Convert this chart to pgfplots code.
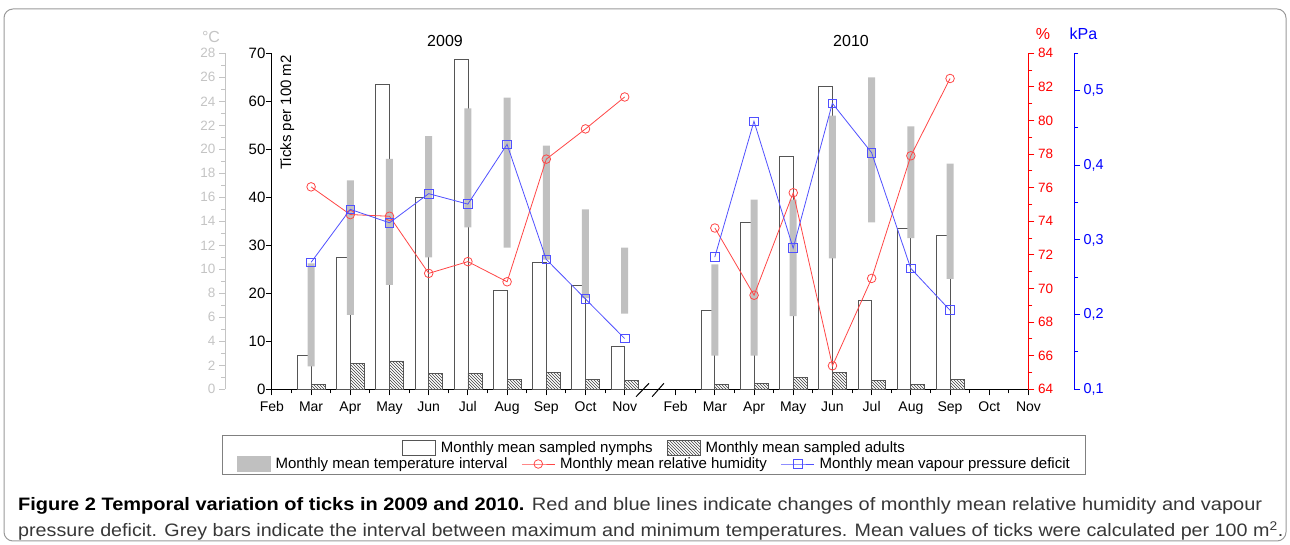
\documentclass[border=0pt]{standalone}
\usepackage{graphicx}
\usepackage{pgfplots}
\usepackage{pgfplotstable}
\pgfplotsset{compat=1.18}
\usepackage{fontspec}
\setmainfont{Liberation Sans}
\usetikzlibrary{patterns}

\definecolor{rhline}{RGB}{255,70,70}
\definecolor{vpdline}{RGB}{80,80,255}
\definecolor{tempgray}{RGB}{192,192,192}
\definecolor{axgray}{RGB}{196,196,196}
\definecolor{barline}{RGB}{85,85,85}
\definecolor{captxt}{RGB}{55,55,55}

% x: month index (Feb 2009 = 0 ... Nov 2009 = 9; Feb 2010 = 10.3 ... Nov 2010 = 19.3)
\pgfplotstableread{
x    n     a     tmin  tmax  rh     vpd
1    7.1   1.0   1.9   10.5  76.05  0.270
2    27.4  5.3   6.2   17.4  74.4   0.341
3    63.5  5.9   8.7   19.2  74.3   0.323
4    40.0  3.25  11.0  21.1  70.9   0.362
5    68.8  3.25  13.5  23.4  71.6   0.348
6    20.5  2.1   11.8  24.3  70.4   0.428
7    26.4  3.6   10.8  20.3  77.7   0.274
8    21.6  2.1   7.6   15.0  79.5   0.221
9    8.9   1.9   6.3   11.8  81.4   0.168
}\nine
\pgfplotstableread{
x    n     a     tmin  tmax  rh     vpd
11.3 16.4  1.1   2.8   10.4  73.6   0.277
12.3 34.8  1.25  2.8   15.8  69.6   0.459
13.3 48.6  2.5   6.1   15.8  75.7   0.289
14.3 63.2  3.5   10.9  22.8  65.4   0.483
15.3 18.6  1.9   13.9  26.0  70.6   0.417
16.3 33.6  1.0   12.6  21.9  77.9   0.262
17.3 32.1  2.1   9.2   18.8  82.5   0.206
}\ten

\pgfplotsset{
  boxlegend/.style={legend image code/.code={\draw[##1] (0pt,-7.5pt) rectangle (33pt,7.5pt);}},
  greylegend/.style={legend image code/.code={\fill[tempgray] (0pt,-7.5pt) rectangle (33pt,7.5pt);}},
  linelegend/.style={legend image code/.code={\draw[mark repeat=2,mark phase=2,##1] plot coordinates {(0pt,0pt) (16.5pt,0pt) (33pt,0pt)};}},
  base/.style={scale only axis, height=336pt, anchor=south west,
     tick align=outside, major tick length=6pt, minor tick length=4pt,
     /pgf/number format/assume math mode=true, clip=false, scaled y ticks=false},
  rowlegend/.style={legend style={draw=none, fill=none, inner sep=0pt, anchor=center,
     font=\fontsize{15}{18}\selectfont, legend columns=-1,
     nodes={inner sep=0pt},
     /tikz/every odd column/.append style={column sep=5pt},
     /tikz/every even column/.append style={column sep=14pt}},
     legend cell align=left},
}

\begin{document}
\begin{tikzpicture}
\useasboundingbox (0pt,0pt) rectangle (1290pt,545pt);
\draw[gray!80, line width=1pt, rounded corners=9pt] (4pt,4pt) rectangle (1286pt,536pt);

% ---------------- ticks per 100 m2 (nymphs, adults)
\begin{axis}[base, at={(271.9pt,155.7pt)}, width=756.56pt,
  xmin=0, xmax=19.3, ymin=0, ymax=70,
  axis x line*=bottom, axis y line*=left,
  xtick={0,1,2,3,4,5,6,7,8,9,10.3,11.3,12.3,13.3,14.3,15.3,16.3,17.3,18.3,19.3},
  xticklabels={Feb,Mar,Apr,May,Jun,Jul,Aug,Sep,Oct,Nov,Feb,Mar,Apr,May,Jun,Jul,Aug,Sep,Oct,Nov},
  minor xtick={0.5,1.5,2.5,3.5,4.5,5.5,6.5,7.5,8.5,10.8,11.8,12.8,13.8,14.8,15.8,16.8,17.8,18.8},
  ytick={0,10,...,70},
  axis line style={black, line width=1.1pt}, tick style={black, line width=1pt},
  xticklabel style={font=\fontsize{14}{16}\selectfont, yshift=-3pt},
  yticklabel style={font=\fontsize{15}{17}\selectfont, xshift=3pt},
  rowlegend, legend style={at={(0.5044,-0.1745)}}]
\addplot[ybar, bar width=13.7pt, bar shift=-6.85pt, fill=white, draw=barline, line width=0.8pt, boxlegend] table[x=x,y=n] {\nine};
\addlegendentry{Monthly mean sampled nymphs}
\addplot[ybar, bar width=14pt, bar shift=7pt, pattern=north west lines, pattern color=black!75, draw=barline, line width=0.8pt, boxlegend] table[x=x,y=a] {\nine};
\addlegendentry{Monthly mean sampled adults}
\addplot[ybar, bar width=13.7pt, bar shift=-6.85pt, fill=white, draw=barline, line width=0.8pt, forget plot] table[x=x,y=n] {\ten};
\addplot[ybar, bar width=14pt, bar shift=7pt, pattern=north west lines, pattern color=black!75, draw=barline, line width=0.8pt, forget plot] table[x=x,y=a] {\ten};
\draw[black, line width=1pt] (axis cs:9.29,-1.54) -- (axis cs:9.62,1.25);
\draw[black, line width=1pt] (axis cs:9.70,-1.54) -- (axis cs:10.0,1.25);
\node[rotate=90, anchor=east, font=\fontsize{15}{17}\selectfont, inner sep=0pt] at (rel axis cs:0.0204,0.995) {Ticks per 100 m2};
\end{axis}

% ---------------- temperature interval (grey)
\begin{axis}[base, at={(225pt,155.7pt)}, width=803.4pt,
  xmin=-1.196, xmax=19.3, ymin=0, ymax=28,
  axis x line=none, axis y line*=left,
  ytick={0,2,...,28}, minor ytick={1,3,...,27},
  axis line style={axgray, line width=1pt}, tick style={axgray, line width=1pt},
  yticklabel style={axgray, font=\fontsize{13.5}{15}\selectfont},
  ybar stacked, bar width=7pt]
\addplot[draw=none, fill=none] table[x=x,y=tmin] {\nine};
\addplot[draw=none, fill=tempgray] table[x=x,y expr=\thisrow{tmax}-\thisrow{tmin}] {\nine};
\end{axis}
\begin{axis}[base, at={(225pt,155.7pt)}, width=803.4pt,
  xmin=-1.196, xmax=19.3, ymin=0, ymax=28,
  axis x line=none, axis y line=none,
  ybar stacked, bar width=7pt]
\addplot[draw=none, fill=none] table[x=x,y=tmin] {\ten};
\addplot[draw=none, fill=tempgray] table[x=x,y expr=\thisrow{tmax}-\thisrow{tmin}] {\ten};
\end{axis}

% ---------------- relative humidity (red)
\begin{axis}[base, at={(271.9pt,155.7pt)}, width=756.56pt,
  xmin=0, xmax=19.3, ymin=64, ymax=84,
  axis x line=none, axis y line*=right,
  ytick={64,66,...,84}, minor ytick={65,67,...,83},
  axis line style={red, line width=1pt}, tick style={red, line width=1pt},
  yticklabel style={red, font=\fontsize{13.5}{15}\selectfont}]
\addplot[rhline, line width=0.8pt, mark=o, mark size=4.3pt, mark options={fill=white, solid}] table[x=x,y=rh] {\nine};
\addplot[rhline, line width=0.8pt, mark=o, mark size=4.3pt, mark options={fill=white, solid}] table[x=x,y=rh] {\ten};
\end{axis}

% ---------------- vapour pressure deficit (blue)
\begin{axis}[base, at={(271.9pt,155.7pt)}, width=802.1pt,
  xmin=0, xmax=20.466, ymin=0.1, ymax=0.55,
  axis x line=none, axis y line*=right,
  ytick={0.1,0.2,0.3,0.4,0.5}, minor ytick={0.15,0.25,0.35,0.45,0.55},
  axis line style={blue, line width=1pt}, tick style={blue, line width=1pt},
  yticklabel style={blue, font=\fontsize{14.4}{16}\selectfont, /pgf/number format/.cd, fixed, fixed zerofill, precision=1, use comma},
  rowlegend, legend style={at={(0.4758,-0.2223)}}]
\addlegendimage{greylegend}
\addlegendentry{Monthly mean temperature interval}
\addlegendimage{linelegend, rhline, line width=0.8pt, mark=o, mark size=4.3pt, mark options={fill=white, solid}}
\addlegendentry{Monthly mean relative humidity}
\addplot[vpdline, line width=0.8pt, mark=square, mark size=4.3pt, mark options={fill=white, solid}, linelegend] table[x=x,y=vpd] {\nine};
\addlegendentry{Monthly mean vapour pressure deficit}
\addplot[vpdline, line width=0.8pt, mark=square, mark size=4.3pt, mark options={fill=white, solid}, forget plot] table[x=x,y=vpd] {\ten};
\end{axis}

% ---------------- texts around
\node[font=\fontsize{16}{18}\selectfont, text=axgray] at (211pt,507.5pt) {°C};
\node[font=\fontsize{16}{18}\selectfont, text=red] at (1043pt,511pt) {\%};
\node[font=\fontsize{16}{18}\selectfont, text=blue] at (1083.5pt,511pt) {kPa};
\node[font=\fontsize{16}{18}\selectfont, anchor=base] at (445pt,498pt) {2009};
\node[font=\fontsize{16}{18}\selectfont, anchor=base] at (851pt,498pt) {2010};

% legend frame
\draw[gray, line width=0.8pt] (222pt,110pt) rectangle (1085pt,71pt);

% caption
\node[anchor=base west, inner sep=0pt, text=captxt] at (18pt,34pt) {\resizebox{1244pt}{\height}{\fontsize{18}{20}\selectfont\textbf{\color{black}Figure 2 Temporal variation of ticks in 2009 and 2010.} Red and blue lines indicate changes of monthly mean relative humidity and vapour}};
\node[anchor=base west, inner sep=0pt, text=captxt] at (18pt,8pt) {\resizebox{1265pt}{\height}{\fontsize{18}{20}\selectfont pressure deficit. Grey bars indicate the interval between maximum and minimum temperatures. Mean values of ticks were calculated per 100 m\textsuperscript{2}.}};
\end{tikzpicture}
\end{document}
